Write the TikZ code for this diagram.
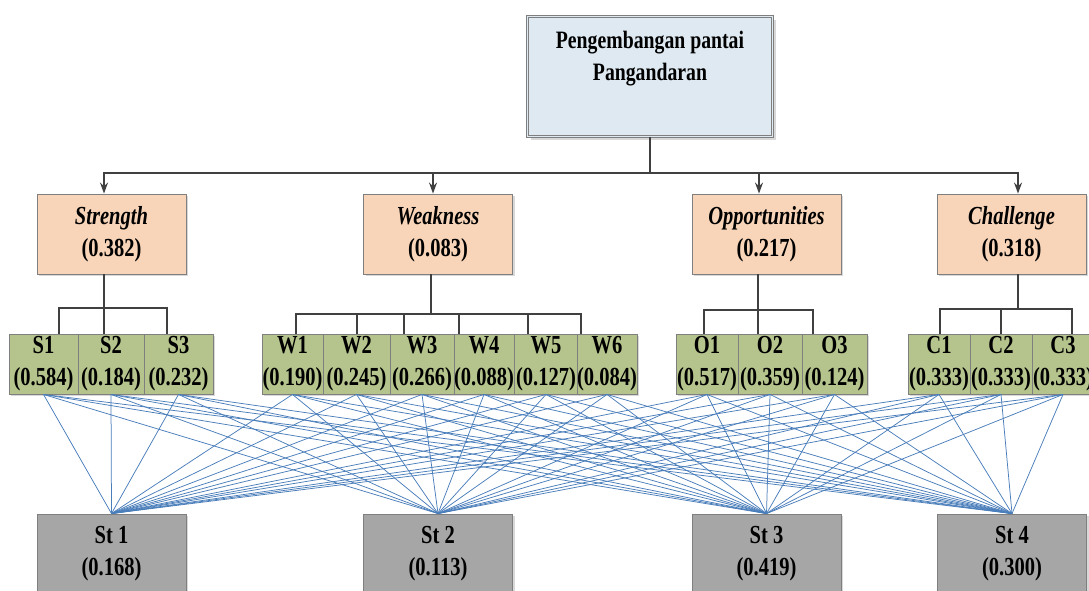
\documentclass[tikz,border=0pt]{standalone}
\usepackage{fontspec}
\setmainfont{Liberation Serif}[FakeStretch=0.79]
\usetikzlibrary{arrows.meta,shadows}
\definecolor{topfill}{HTML}{DEE9F1}
\definecolor{peach}{HTML}{F8D5B9}
\definecolor{olive}{HTML}{B5C48C}
\definecolor{stgray}{HTML}{A6A6A6}
\definecolor{edge}{HTML}{7F7F7F}
\definecolor{conncol}{HTML}{404040}
\definecolor{bluel}{HTML}{4A7EBB}
\begin{document}
\begin{tikzpicture}[x=1pt,y=-1pt,
 txt/.style={font=\fontsize{26}{32}\selectfont\bfseries, align=center, text=black, inner sep=0pt},
 box/.style={draw=edge, line width=0.9pt, inner sep=0pt,
   drop shadow={shadow xshift=2pt,shadow yshift=-2pt,fill=black!30,opacity=0.5}},
 crit/.style={box, fill=peach, minimum width=149pt, minimum height=80pt, txt},
 cell/.style={box, fill=olive, minimum height=60pt, txt},
 strat/.style={box, fill=stgray, minimum width=149pt, minimum height=80pt, txt},
 topbox/.style={draw=edge, line width=0.8pt, double=topfill, double distance=1.6pt, fill=topfill,
   minimum width=245pt, minimum height=120pt, inner sep=0pt,
   drop shadow={shadow xshift=3pt,shadow yshift=-3pt,fill=black!30,opacity=0.5}},
 conn/.style={draw=conncol, line width=1.4pt},
 arr/.style={conn, -{Stealth[length=11pt,width=8pt]}},
 link/.style={draw=bluel, line width=0.75pt},
]
\useasboundingbox[fill=white] (0,0) rectangle (1089,590);

% top
\node[topbox] (top) at (650,76.5) {};
\node[txt, font=\fontsize{25}{32}\selectfont\bfseries] (toptext) at (650,59) {Pengembangan pantai\\ Pangandaran};

% criteria
\node[crit] (crS) at (111.5,234) {\textit{Strength}\\(0.382)};
\node[crit] (crW) at (438,234) {\textit{Weakness}\\(0.083)};
\node[crit] (crO) at (766.5,234) {\textit{Opportunities}\\(0.217)};
\node[crit] (crC) at (1011.5,234) {\textit{Challenge}\\(0.318)};

% sub-criteria cells
\foreach \n/\l/\r/\a/\v [evaluate=\r as \w using \r-\l, evaluate=\r as \cx using (\l+\r)/2] in {
  s1/9/78/S1/0.584, s2/78/144/S2/0.184, s3/144/213/S3/0.232,
  w1/262/323/W1/0.190, w2/323/390/W2/0.245, w3/390/454/W3/0.266,
  w4/454/514/W4/0.088, w5/514/578/W5/0.127, w6/578/636/W6/0.084,
  o1/676/738/O1/0.517, o2/738/802/O2/0.359, o3/802/867/O3/0.124,
  c1/908/970/C1/0.333, c2/970/1032/C2/0.333, c3/1032/1094/C3/0.333}
  \node[cell, minimum width=\w pt] (\n) at (\cx,364) {\a\\(\v)};

% strategies
\node[strat] (st1) at (111.5,554) {St 1\\(0.168)};
\node[strat] (st2) at (438,554) {St 2\\(0.113)};
\node[strat] (st3) at (766.5,554) {St 3\\(0.419)};
\node[strat] (st4) at (1012,554) {St 4\\(0.300)};

% top connectors
\coordinate (hub) at (650,173);
\draw[conn] (top.south) -- (hub);
\draw[arr] (hub) -| ([xshift=-7.5pt]crS.north);
\draw[arr] (hub) -| ([xshift=6.5pt]crC.north);
\draw[arr] ([xshift=-5pt]crW.north |- hub) -- ([xshift=-5pt]crW.north);
\draw[arr] ([xshift=-7.5pt]crO.north |- hub) -- ([xshift=-7.5pt]crO.north);

% brackets
\foreach \c/\sx/\by/\drops in {
  crS/104/308/{59/s1,104/s2,167/s3},
  crW/431/314/{296/w1,357/w2,404/w3,459/w4,528/w5,581/w6},
  crO/758/310/{704/o1,758/o2,813/o3},
  crC/1018/309/{940/c1,1001/c2,1072/c3}} {
  \draw[conn] (\c.south -| \sx,0) -- (\sx,\by);
  \foreach \d/\n in \drops
    \draw[conn] (\sx,\by) -| (\n.north -| \d,0);
}

% links
\foreach \a in {s1,s2,s3,w1,w2,w3,w4,w5,w6,o1,o2,o3,c1,c2,c3}
  \foreach \b in {st1,st2,st3,st4}
    \draw[link] (\a.south) -- (\b.north);
\end{tikzpicture}
\end{document}
